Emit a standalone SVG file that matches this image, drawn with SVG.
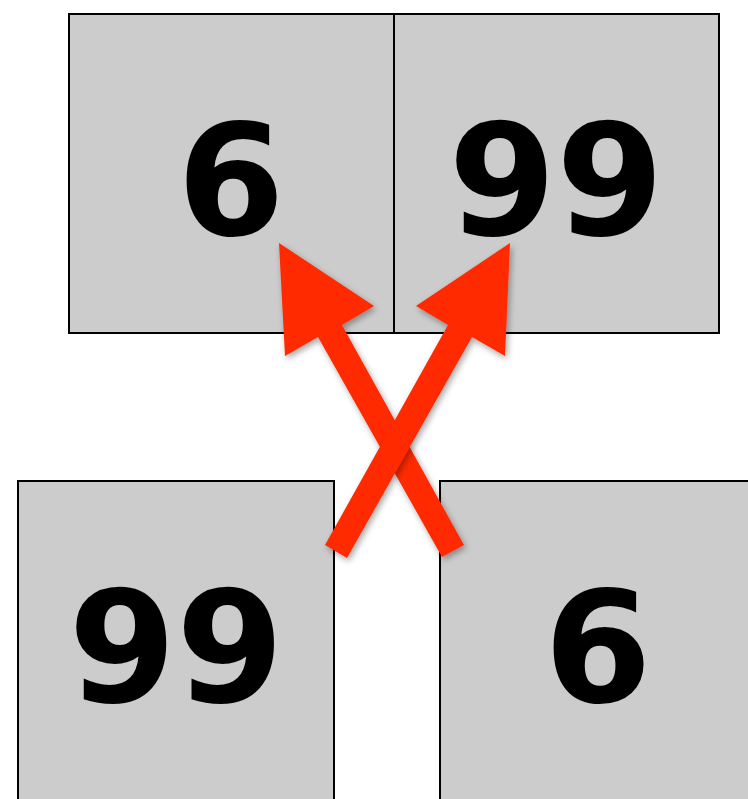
<svg xmlns="http://www.w3.org/2000/svg" width="748" height="799" viewBox="0 0 748 799">
<style>
.box{fill:#cccccc;stroke:#000;stroke-width:2}
.num{font-family:"DejaVu Sans",sans-serif;font-weight:bold;font-size:155px;fill:#000;text-anchor:middle}
.arrow{fill:#ff2a00}
</style>
<defs>
<filter id="sh" x="-20%" y="-20%" width="140%" height="140%">
<feDropShadow dx="2" dy="3" stdDeviation="3" flood-color="#000" flood-opacity="0.35"/>
</filter>
</defs>
<rect width="748" height="799" fill="#fff"/>
<g id="top-left"><rect class="box" x="69" y="14" width="325" height="319"/><text class="num" x="231" y="235">6</text></g>
<g id="top-right"><rect class="box" x="394" y="14" width="325" height="319"/><text class="num" x="556" y="235">99</text></g>
<g id="bottom-left"><rect class="box" x="18" y="481" width="316" height="330"/><text class="num" x="176" y="702">99</text></g>
<g id="bottom-right"><rect class="box" x="440" y="481" width="330" height="330"/><text class="num" x="598" y="702">6</text></g>
<g id="connectors">
<polygon class="arrow" filter="url(#sh)" points="464,545 342,325 374,306 279,243 285,356 318,337 442,557"/>
<polygon class="arrow" filter="url(#sh)" points="325,545 448,325 416,306 510,243 505,356 472,337 347,558"/>
</g>
</svg>
